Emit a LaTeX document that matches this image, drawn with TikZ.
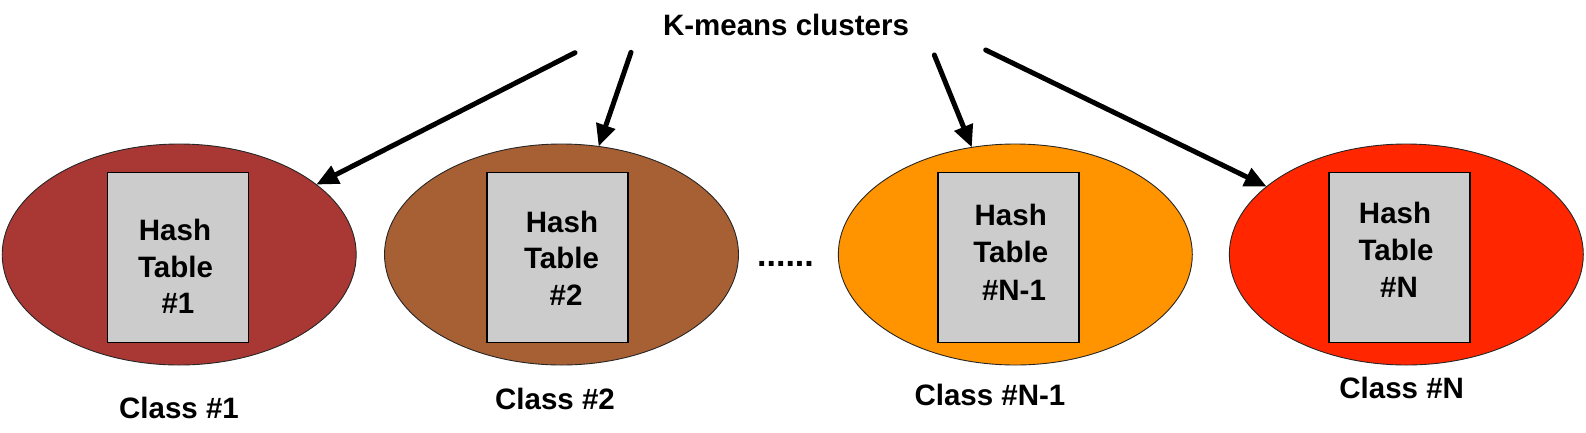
\documentclass[tikz,border=0pt]{standalone}
\usepackage{fontspec}
\setmainfont{Liberation Sans}
\usetikzlibrary{arrows.meta,shapes.geometric}
\definecolor{cOne}{HTML}{A93834}
\definecolor{cTwo}{HTML}{A75F34}
\definecolor{cThree}{HTML}{FF9300}
\definecolor{cFour}{HTML}{FF2600}
\definecolor{rectgray}{HTML}{CCCCCC}
\begin{document}
\begin{tikzpicture}[x=1pt,y=-1pt,
  cluster/.style={ellipse, draw=black!85, line width=0.9pt, inner sep=0pt, outer sep=0pt,
    minimum width=354pt, minimum height=221pt},
  hashbox/.style={rectangle, draw=black, line width=1.5pt, fill=rectgray, inner sep=0pt,
    minimum width=141pt, minimum height=170pt},
  lbl/.style={anchor=base, inner sep=0pt, font=\fontsize{29.5}{35}\selectfont\bfseries},
  kmarrow/.style={line width=5pt, line cap=round, -{Triangle[length=22pt,width=19pt]}}
]
\useasboundingbox (0,0) rectangle (1586,432);

% clusters
\node[cluster, fill=cOne]   (e1) at (179.2,254.5) {};
\node[cluster, fill=cTwo]   (e2) at (561.5,254.5) {};
\node[cluster, fill=cThree] (e3) at (1015.3,254.5) {};
\node[cluster, fill=cFour]  (e4) at (1406.3,254.5) {};

% hash tables
\node[hashbox] (r1) at (178.2,257.3) {};
\node[hashbox] (r2) at (557.7,257.3) {};
\node[hashbox] (r3) at (1008.5,257.3) {};
\node[hashbox] (r4) at (1399.5,257.3) {};

% hash table texts
\node[lbl] (h1a) at (175,240.6) {Hash};
\node[lbl] (h1b) at (175.5,277.3) {Table};
\node[lbl] (h1c) at (178,313.6) {\#1};

\node[lbl] (h2a) at (562,232.3) {Hash};
\node[lbl] (h2b) at (561.5,268.9) {Table};
\node[lbl] (h2c) at (566,305.6) {\#2};

\node[lbl] (h3a) at (1010.7,225.6) {Hash};
\node[lbl] (h3b) at (1010.7,262.3) {Table};
\node[lbl] (h3c) at (1014,300.6) {\#N-1};

\node[lbl] (h4a) at (1395,223.9) {Hash};
\node[lbl] (h4b) at (1396,260.6) {Table};
\node[lbl] (h4c) at (1399,297.3) {\#N};

% class labels
\node[lbl] (c1) at (179,418.6) {Class \#1};
\node[lbl] (c2) at (555,409.6) {Class \#2};
\node[lbl] (c3) at (990,405.6) {Class \#N-1};
\node[lbl] (c4) at (1401.7,398.9) {Class \#N};

% dots
\node[lbl, font=\fontsize{34}{40}\selectfont\bfseries] (dots) at (785.5,266) {......};

% title
\node[lbl] (km) at (786,35.6) {K-means clusters};

% arrows
\coordinate (s1) at (575,52.7);
\coordinate (s2) at (631,52.3);
\coordinate (s3) at (934.3,55);
\coordinate (s4) at (985.7,50);
\draw[kmarrow] (s1) -- (e1);
\draw[kmarrow] (s2) -- (e2);
\draw[kmarrow] (s3) -- (e3);
\draw[kmarrow] (s4) -- (e4);
\end{tikzpicture}
\end{document}
